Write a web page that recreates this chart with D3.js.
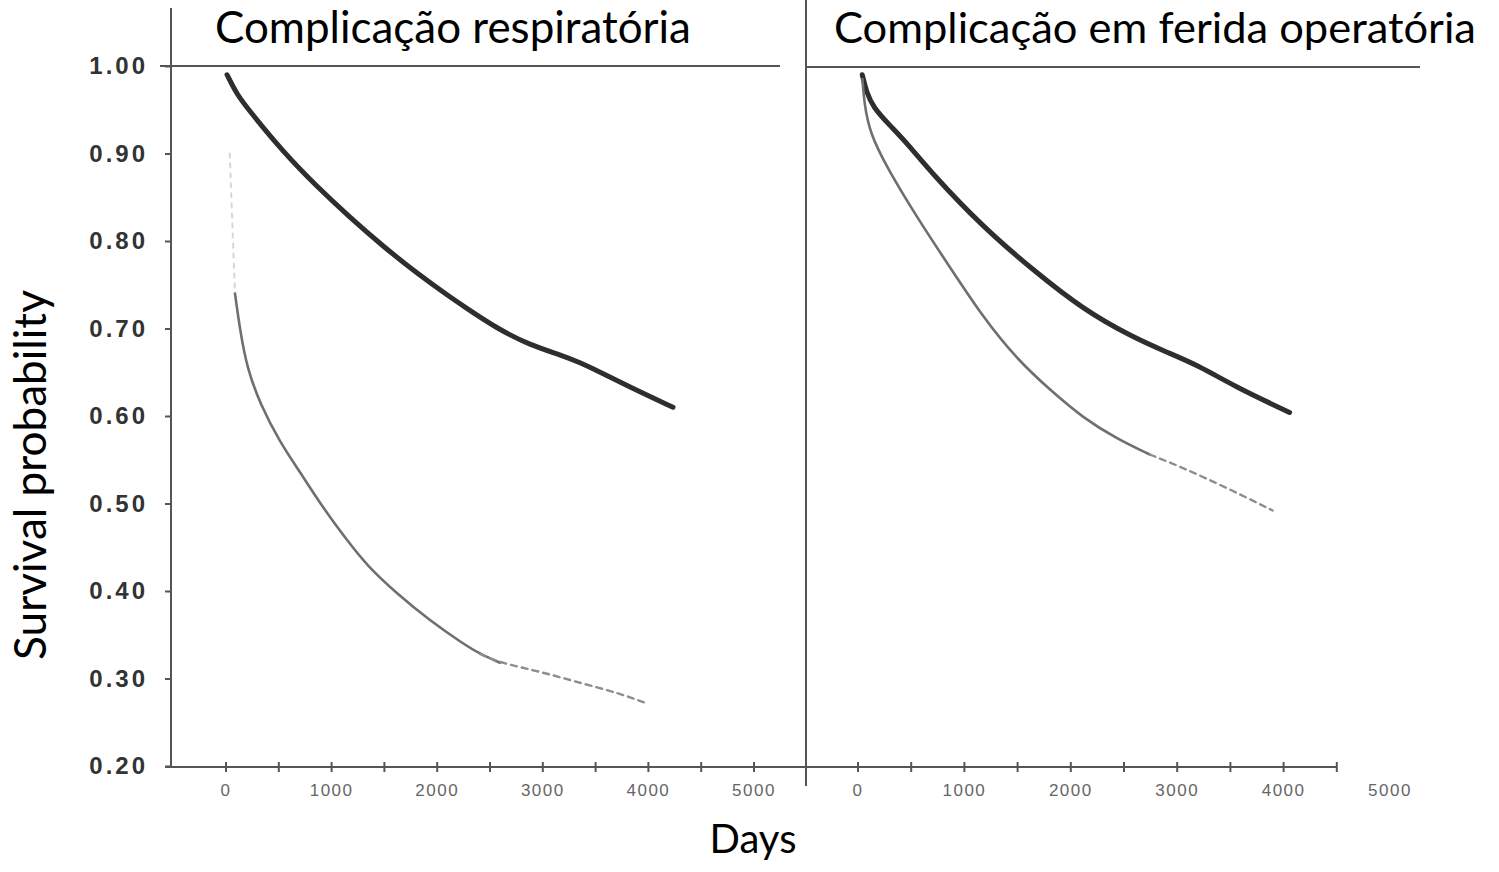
<!DOCTYPE html>
<html>
<head>
  <meta charset="utf-8">
  <style>
    body {
      margin: 0;
      background: white;
    }
    .curve {
      fill: none;
      stroke-linecap: round;
      stroke-linejoin: round;
    }
    .frame {
      stroke: #555;
      stroke-width: 2;
    }
  </style>
</head>
<body>
  <div id="chart"></div>
  <script src="https://d3js.org/d3.v7.min.js"></script>
  <script>
    var width = 1499, height = 872;

    // panel titles and axis labels
    var panelTitles = ["Complicação respiratória", "Complicação em ferida operatória"];
    var yTitle = "Survival probability";
    var xTitle = "Days";

    var yTicks = [0.20, 0.30, 0.40, 0.50, 0.60, 0.70, 0.80, 0.90, 1.00];
    var xTickLabels = [0, 1000, 2000, 3000, 4000, 5000];

    // respiratory complication panel: [days, survival]
    var respNoComp = [[10, 0.99], [100, 0.968], [227, 0.948], [540, 0.902], [862, 0.862], [1174, 0.827],
      [1487, 0.794], [1809, 0.763], [2121, 0.736], [2244, 0.726], [2566, 0.700], [2879, 0.681],
      [3191, 0.669], [3352, 0.661], [3513, 0.652], [3826, 0.633], [4233, 0.610]];
    var respComp = [[35, 0.90], [60, 0.82], [85, 0.740], [133, 0.698], [199, 0.655], [322, 0.614],
      [511, 0.570], [701, 0.536], [919, 0.495], [1146, 0.458], [1335, 0.429], [1619, 0.397],
      [1932, 0.366], [2244, 0.340], [2405, 0.328], [2595, 0.318], [2973, 0.308], [3352, 0.295],
      [3731, 0.283], [3996, 0.271]];

    // wound complication panel
    var woundNoComp = [[40, 0.99], [80, 0.97], [141, 0.953], [300, 0.932], [460, 0.912], [704, 0.876],
      [1174, 0.816], [1643, 0.767], [2113, 0.722], [2582, 0.690], [2901, 0.673], [3211, 0.657],
      [3521, 0.635], [4056, 0.604]];
    var woundComp = [[42, 0.985], [60, 0.956], [113, 0.923], [272, 0.884], [554, 0.827], [864, 0.770],
      [1174, 0.713], [1493, 0.665], [1803, 0.630], [2113, 0.598], [2432, 0.574], [2742, 0.556],
      [3052, 0.541], [3465, 0.518], [3897, 0.492]];

    var svg = d3.select("#chart").append("svg")
        .attr("width", width)
        .attr("height", height);

    var y = d3.scaleLinear().domain([0.2, 1.0]).range([766, 66]);

    var panels = [
      { title: panelTitles[0], x: d3.scaleLinear().domain([0, 5000]).range([226, 754]),
        axisFrom: 165, axisTo: 806, tickMax: 5000, noComp: respNoComp, comp: respComp,
        faintTo: 85, tailFrom: 2700, titleX: 215, titleW: 476 },
      { title: panelTitles[1], x: d3.scaleLinear().domain([0, 5000]).range([858, 1390]),
        axisFrom: 806, axisTo: 1336, tickMax: 4500, noComp: woundNoComp, comp: woundComp,
        faintTo: 0, tailFrom: 2750, titleX: 834, titleW: 642 }
    ];

    function fitText(sel, target) {
      var size = parseFloat(sel.style("font-size"));
      var w = sel.node().getComputedTextLength();
      sel.style("font-size", (size * target / w) + "px");
    }

    // frame lines
    svg.append("line").attr("class", "frame")
        .attr("x1", 171).attr("x2", 171).attr("y1", 8).attr("y2", 768);
    svg.append("line").attr("class", "frame")
        .attr("x1", 806).attr("x2", 806).attr("y1", 0).attr("y2", 786);
    svg.append("line").attr("class", "frame")
        .attr("x1", 160).attr("x2", 780).attr("y1", y(1)).attr("y2", y(1));
    svg.append("line").attr("class", "frame")
        .attr("x1", 806).attr("x2", 1420).attr("y1", y(1) + 1).attr("y2", y(1) + 1);

    // y axis
    var yAxis = svg.append("g")
        .attr("transform", "translate(171,0)")
        .call(d3.axisLeft(y).tickValues(yTicks).tickSize(6).tickPadding(17).tickFormat(d3.format(".2f")));
    yAxis.select(".domain").remove();
    yAxis.selectAll(".tick line").attr("stroke", "#555").attr("stroke-width", 2);
    yAxis.selectAll(".tick text")
        .attr("fill", "#333")
        .style("font-family", "'Liberation Sans', Arial, sans-serif")
        .style("font-weight", "bold")
        .style("font-size", "24px")
        .style("letter-spacing", "3px");

    var line = d3.line().curve(d3.curveBasis);

    panels.forEach(function(p) {
      line.x(d => p.x(d[0])).y(d => y(d[1]));

      // x axis
      var ticks = d3.range(0, p.tickMax + 1, 500);
      var g = svg.append("g").attr("transform", "translate(0,767)");
      g.append("line").attr("class", "frame")
          .attr("x1", p.axisFrom).attr("x2", p.axisTo);
      g.selectAll(".tk").data(ticks).enter().append("line")
          .attr("class", "frame")
          .attr("x1", d => p.x(d)).attr("x2", d => p.x(d))
          .attr("y1", -5).attr("y2", 5);
      g.selectAll(".lb").data(xTickLabels).enter().append("text")
          .attr("x", d => p.x(d))
          .attr("y", 29)
          .attr("text-anchor", "middle")
          .attr("fill", "#666")
          .style("font-family", "'Liberation Sans', Arial, sans-serif")
          .style("font-size", "17px")
          .style("letter-spacing", "1.5px")
          .text(d => d);

      // curves
      svg.append("path").datum(p.noComp)
          .attr("class", "curve")
          .attr("stroke", "#2e2e2e")
          .attr("stroke-width", 5)
          .attr("d", line);

      var faint = p.comp.filter(d => d[0] <= p.faintTo);
      var solid = p.comp.filter(d => d[0] >= (p.faintTo || 0) && d[0] <= p.tailFrom + 100);
      var tail = p.comp.filter(d => d[0] >= p.tailFrom - 300);

      if (faint.length > 1) {
        svg.append("path").datum(faint)
            .attr("class", "curve")
            .attr("stroke", "#999")
            .attr("stroke-opacity", 0.4)
            .attr("stroke-width", 2)
            .attr("stroke-dasharray", "4,6")
            .attr("d", line);
      }
      svg.append("path").datum(solid)
          .attr("class", "curve")
          .attr("stroke", "#6f6f6f")
          .attr("stroke-width", 2.6)
          .attr("d", line);
      svg.append("path").datum(tail)
          .attr("class", "curve")
          .attr("stroke", "#8e8e8e")
          .attr("stroke-width", 2.4)
          .attr("stroke-dasharray", "6,5")
          .attr("d", line);

      // panel title
      var t = svg.append("text")
          .attr("x", p.titleX)
          .attr("y", 43)
          .attr("fill", "#000")
          .style("font-family", "Lato, 'Open Sans', sans-serif")
          .style("font-size", "34px")
          .text(p.title);
      fitText(t, p.titleW);
    });

    // axis titles
    var yt = svg.append("text")
        .attr("transform", "translate(46,475) rotate(-90)")
        .attr("text-anchor", "middle")
        .attr("fill", "#000")
        .style("font-family", "Lato, 'Open Sans', sans-serif")
        .style("font-size", "34px")
        .text(yTitle);
    fitText(yt, 370);

    var xt = svg.append("text")
        .attr("x", 753)
        .attr("y", 853)
        .attr("text-anchor", "middle")
        .attr("fill", "#000")
        .style("font-family", "Lato, 'Open Sans', sans-serif")
        .style("font-size", "34px")
        .text(xTitle);
    fitText(xt, 87);
  </script>
</body>
</html>
